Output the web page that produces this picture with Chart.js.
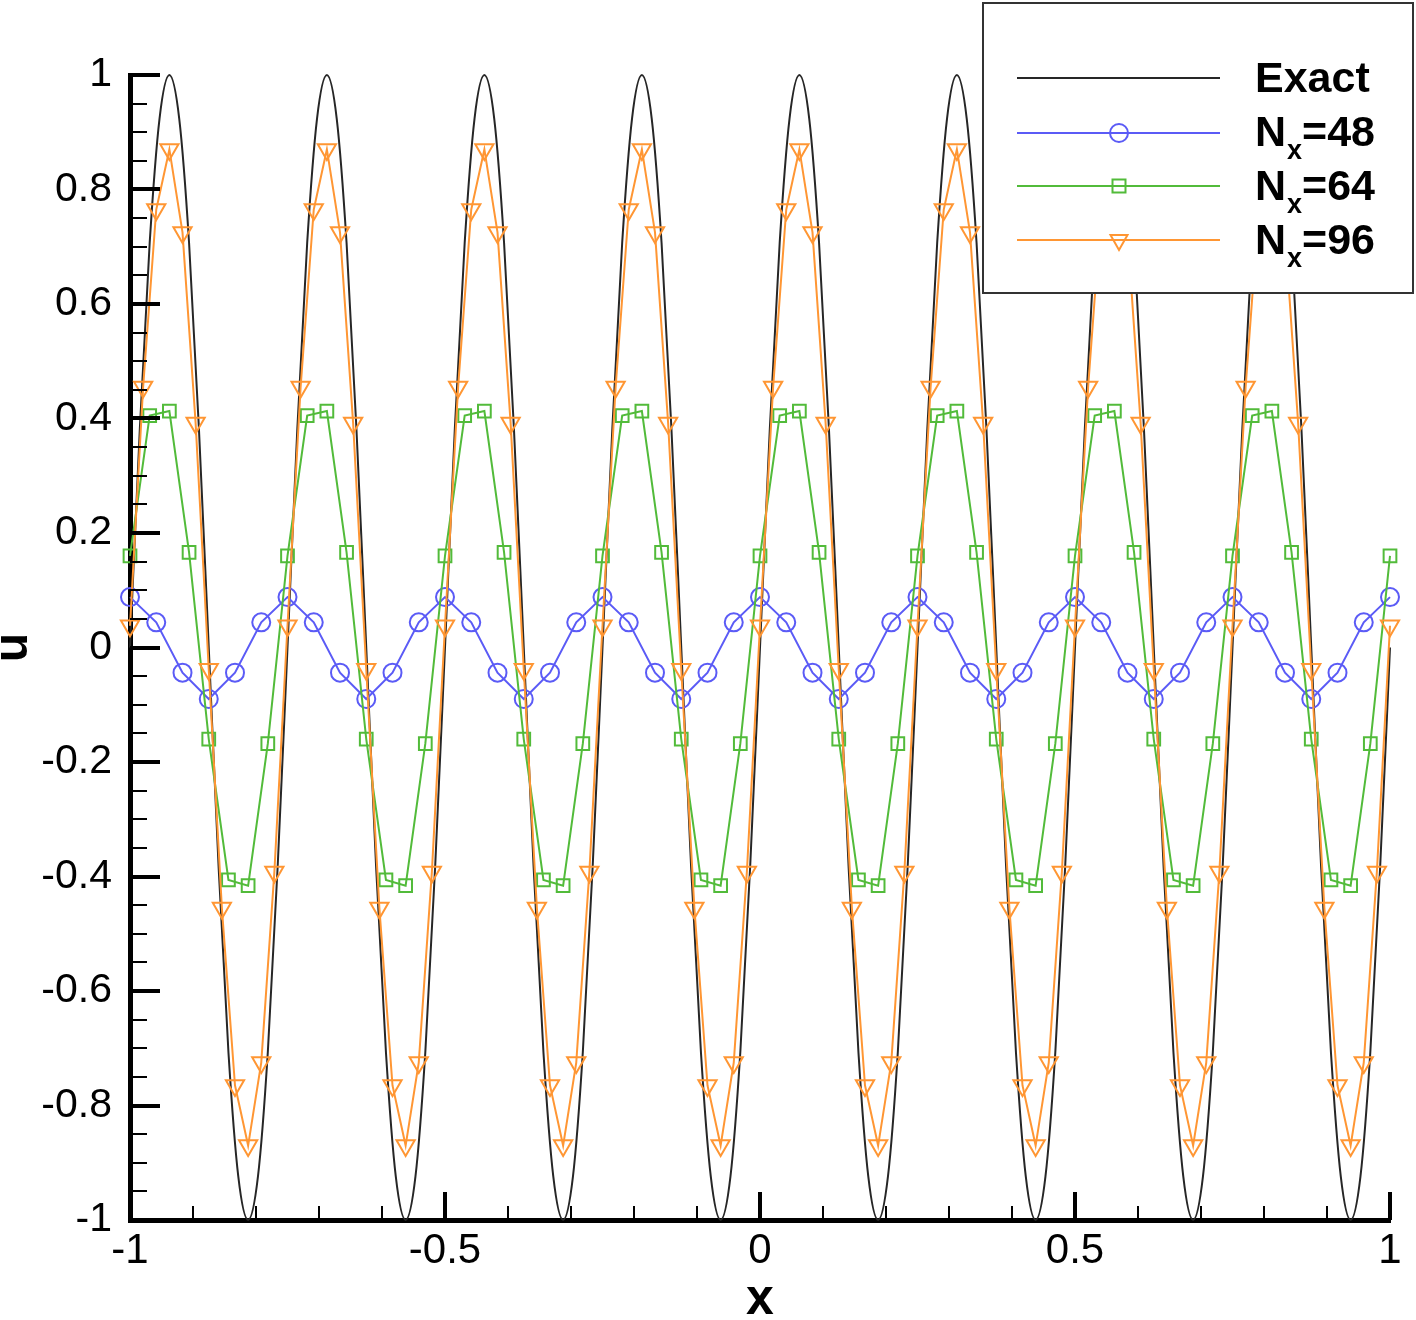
<!DOCTYPE html>
<html>
<head>
<meta charset="utf-8">
<script src="https://cdn.jsdelivr.net/npm/chart.js@4.4.1/dist/chart.umd.min.js"></script>
<style>
  html, body { margin: 0; padding: 0; background: #fff; }
</style>
</head>
<body>
<canvas id="myChart" width="1416" height="1320"></canvas>
<script>
// values
const exactU = [
  0, 0.383, 0.707, 0.924, 1, 0.924, 0.707, 0.383, 0, -0.383, -0.707, -0.924, -1, -0.924, -0.707, -0.383,
  0, 0.383, 0.707, 0.924, 1, 0.924, 0.707, 0.383, 0, -0.383, -0.707, -0.924, -1, -0.924, -0.707, -0.383,
  0, 0.383, 0.707, 0.924, 1, 0.924, 0.707, 0.383, 0, -0.383, -0.707, -0.924, -1, -0.924, -0.707, -0.383,
  0, 0.383, 0.707, 0.924, 1, 0.924, 0.707, 0.383, 0, -0.383, -0.707, -0.924, -1, -0.924, -0.707, -0.383,
  0, 0.383, 0.707, 0.924, 1, 0.924, 0.707, 0.383, 0, -0.383, -0.707, -0.924, -1, -0.924, -0.707, -0.383,
  0, 0.383, 0.707, 0.924, 1, 0.924, 0.707, 0.383, 0, -0.383, -0.707, -0.924, -1, -0.924, -0.707, -0.383,
  0, 0.383, 0.707, 0.924, 1, 0.924, 0.707, 0.383, 0, -0.383, -0.707, -0.924, -1, -0.924, -0.707, -0.383,
  0, 0.383, 0.707, 0.924, 1, 0.924, 0.707, 0.383, 0, -0.383, -0.707, -0.924, -1, -0.924, -0.707, -0.383,
  0
];

const nx48 = [
  0.088, 0.044, -0.044, -0.09, -0.044, 0.044,
  0.088, 0.044, -0.044, -0.09, -0.044, 0.044,
  0.088, 0.044, -0.044, -0.09, -0.044, 0.044,
  0.088, 0.044, -0.044, -0.09, -0.044, 0.044,
  0.088, 0.044, -0.044, -0.09, -0.044, 0.044,
  0.088, 0.044, -0.044, -0.09, -0.044, 0.044,
  0.088, 0.044, -0.044, -0.09, -0.044, 0.044,
  0.088, 0.044, -0.044, -0.09, -0.044, 0.044,
  0.088
];

const nx64 = [
  0.16, 0.405, 0.413, 0.166, -0.16, -0.406, -0.416, -0.168,
  0.16, 0.405, 0.413, 0.166, -0.16, -0.406, -0.416, -0.168,
  0.16, 0.405, 0.413, 0.166, -0.16, -0.406, -0.416, -0.168,
  0.16, 0.405, 0.413, 0.166, -0.16, -0.406, -0.416, -0.168,
  0.16, 0.405, 0.413, 0.166, -0.16, -0.406, -0.416, -0.168,
  0.16, 0.405, 0.413, 0.166, -0.16, -0.406, -0.416, -0.168,
  0.16, 0.405, 0.413, 0.166, -0.16, -0.406, -0.416, -0.168,
  0.16, 0.405, 0.413, 0.166, -0.16, -0.406, -0.416, -0.168,
  0.16
];

const nx96 = [
  0.038, 0.455, 0.765, 0.87, 0.725, 0.392, -0.038, -0.455, -0.765, -0.87, -0.725, -0.392,
  0.038, 0.455, 0.765, 0.87, 0.725, 0.392, -0.038, -0.455, -0.765, -0.87, -0.725, -0.392,
  0.038, 0.455, 0.765, 0.87, 0.725, 0.392, -0.038, -0.455, -0.765, -0.87, -0.725, -0.392,
  0.038, 0.455, 0.765, 0.87, 0.725, 0.392, -0.038, -0.455, -0.765, -0.87, -0.725, -0.392,
  0.038, 0.455, 0.765, 0.87, 0.725, 0.392, -0.038, -0.455, -0.765, -0.87, -0.725, -0.392,
  0.038, 0.455, 0.765, 0.87, 0.725, 0.392, -0.038, -0.455, -0.765, -0.87, -0.725, -0.392,
  0.038, 0.455, 0.765, 0.87, 0.725, 0.392, -0.038, -0.455, -0.765, -0.87, -0.725, -0.392,
  0.038, 0.455, 0.765, 0.87, 0.725, 0.392, -0.038, -0.455, -0.765, -0.87, -0.725, -0.392,
  0.038
];

const seriesNames = ['Exact', 'N', 'N', 'N'];
const seriesSubs = ['', 'x', 'x', 'x'];
const seriesRest = ['', '=48', '=64', '=96'];
const colors = ['#262626', '#5b5bf6', '#52bb3a', '#ff9633'];

// uniform grid on [-1, 1] with n cells
function gridX(n) {
  const xs = [];
  for (let i = 0; i <= n; i++) xs.push(-1 + 2 * i / n);
  return xs;
}
const pts = (ys) => {
  const xs = gridX(ys.length - 1);
  return ys.map((v, i) => ({ x: xs[i], y: v }));
};

const FONT = '"Liberation Sans", Arial, sans-serif';
const fmt = (v) => String(Number(v.toFixed(2)));

// inward ticks (tecplot style)
const tickPlugin = {
  id: 'inTicks',
  afterDatasetsDraw(chart) {
    const { ctx, chartArea, scales } = chart;
    const x = scales.x, y = scales.y;
    ctx.save();
    ctx.strokeStyle = '#000';
    for (let i = 0; i <= 40; i++) {
      const py = Math.round(y.getPixelForValue(-1 + i * 0.05));
      const major = i % 4 === 0;
      ctx.lineWidth = major ? 4 : 2;
      ctx.beginPath();
      ctx.moveTo(chartArea.left, py);
      ctx.lineTo(chartArea.left + (major ? 30 : 17), py);
      ctx.stroke();
    }
    for (let i = 0; i <= 20; i++) {
      const px = Math.round(x.getPixelForValue(-1 + i * 0.1));
      const major = i % 5 === 0;
      ctx.lineWidth = major ? 4 : 2;
      ctx.beginPath();
      ctx.moveTo(px, chartArea.bottom);
      ctx.lineTo(px, chartArea.bottom - (major ? 28 : 14));
      ctx.stroke();
    }
    ctx.restore();
  }
};

function legendMarker(ctx, kind, cx, cy, color) {
  ctx.strokeStyle = color;
  ctx.lineWidth = 2;
  ctx.beginPath();
  if (kind === 'circle') {
    ctx.arc(cx, cy, 9, 0, Math.PI * 2);
  } else if (kind === 'rect') {
    ctx.rect(cx - 6.5, cy - 6.5, 13, 13);
  } else if (kind === 'tri') {
    ctx.moveTo(cx - 8.5, cy - 5);
    ctx.lineTo(cx + 8.5, cy - 5);
    ctx.lineTo(cx, cy + 10);
    ctx.closePath();
  }
  ctx.stroke();
}

const legendPlugin = {
  id: 'boxLegend',
  afterDraw(chart) {
    const ctx = chart.ctx;
    ctx.save();
    ctx.fillStyle = '#fff';
    ctx.fillRect(983, 3, 430, 290);
    ctx.strokeStyle = '#333';
    ctx.lineWidth = 2;
    ctx.strokeRect(983, 3, 430, 290);
    const lineY = [78, 133, 186, 240];
    const baseY = [92, 146, 200, 254];
    const kinds = ['', 'circle', 'rect', 'tri'];
    for (let i = 0; i < 4; i++) {
      ctx.strokeStyle = colors[i];
      ctx.lineWidth = 2;
      ctx.beginPath();
      ctx.moveTo(1017, lineY[i]);
      ctx.lineTo(1220, lineY[i]);
      ctx.stroke();
      if (kinds[i]) legendMarker(ctx, kinds[i], 1119, lineY[i], colors[i]);
      ctx.fillStyle = '#000';
      ctx.textBaseline = 'alphabetic';
      ctx.textAlign = 'left';
      ctx.font = 'bold 43px ' + FONT;
      let tx = 1255;
      ctx.fillText(seriesNames[i], tx, baseY[i]);
      tx += ctx.measureText(seriesNames[i]).width;
      if (seriesSubs[i]) {
        ctx.font = 'bold 27px ' + FONT;
        ctx.fillText(seriesSubs[i], tx + 1, baseY[i] + 13);
        tx += ctx.measureText(seriesSubs[i]).width + 1;
        ctx.font = 'bold 43px ' + FONT;
        ctx.fillText(seriesRest[i], tx, baseY[i]);
      }
    }
    ctx.restore();
  }
};

const ctx = document.getElementById('myChart');

new Chart(ctx, {
  type: 'line',
  data: {
    datasets: [
      {
        label: 'Exact',
        data: pts(exactU),
        borderColor: colors[0],
        borderWidth: 2,
        pointRadius: 0,
        cubicInterpolationMode: 'monotone',
        clip: false,
        order: 4
      },
      {
        label: 'Nx=48',
        data: pts(nx48),
        borderColor: colors[1],
        borderWidth: 2,
        pointStyle: 'circle',
        pointRadius: 9,
        pointBorderWidth: 2,
        pointBorderColor: colors[1],
        pointBackgroundColor: 'rgba(0,0,0,0)',
        clip: false,
        order: 3
      },
      {
        label: 'Nx=64',
        data: pts(nx64),
        borderColor: colors[2],
        borderWidth: 2,
        pointStyle: 'rect',
        pointRadius: 9,
        pointBorderWidth: 2,
        pointBorderColor: colors[2],
        pointBackgroundColor: 'rgba(0,0,0,0)',
        clip: false,
        order: 2
      },
      {
        label: 'Nx=96',
        data: pts(nx96),
        borderColor: colors[3],
        borderWidth: 2,
        pointStyle: 'triangle',
        pointRotation: 180,
        pointRadius: 10.5,
        pointBorderWidth: 2,
        pointBorderColor: colors[3],
        pointBackgroundColor: 'rgba(0,0,0,0)',
        clip: false,
        order: 1
      }
    ]
  },
  options: {
    responsive: false,
    devicePixelRatio: 1,
    animation: false,
    events: [],
    layout: { padding: { top: 75, right: 26, left: 0, bottom: 0 } },
    plugins: { legend: { display: false }, tooltip: { enabled: false } },
    scales: {
      x: {
        type: 'linear',
        min: -1,
        max: 1,
        afterFit: (s) => { s.height = 100; },
        grid: { display: false, drawTicks: false },
        border: { display: true, color: '#000', width: 5 },
        ticks: {
          stepSize: 0.5,
          padding: 6,
          maxRotation: 0,
          autoSkip: false,
          color: '#000',
          font: { family: FONT, size: 42 },
          callback: (v) => fmt(v)
        },
        title: {
          display: true,
          text: 'x',
          color: '#000',
          font: { family: FONT, size: 50, weight: 'bold', lineHeight: 1 },
          padding: { top: 0, bottom: -5 }
        }
      },
      y: {
        type: 'linear',
        min: -1,
        max: 1,
        afterFit: (s) => { s.width = 130; },
        grid: { display: false, drawTicks: false },
        border: { display: true, color: '#000', width: 5 },
        ticks: {
          stepSize: 0.2,
          padding: 18,
          autoSkip: false,
          color: '#000',
          font: { family: FONT, size: 41 },
          callback: (v) => fmt(v)
        },
        title: {
          display: true,
          text: 'u',
          color: '#000',
          font: { family: FONT, size: 48, weight: 'bold', lineHeight: 1 },
          padding: { top: -10, bottom: 0 }
        }
      }
    }
  },
  plugins: [tickPlugin, legendPlugin]
});
</script>
</body>
</html>
